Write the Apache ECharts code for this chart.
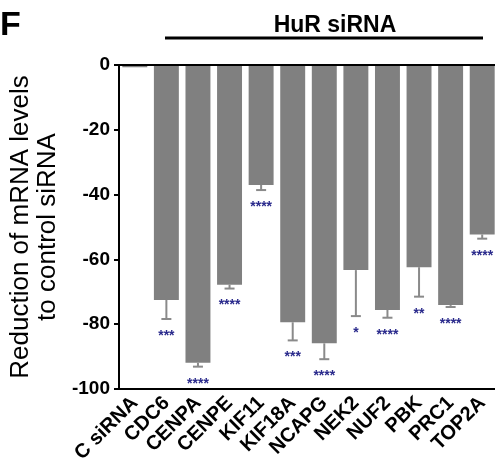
<!DOCTYPE html>
<html>
<head>
<meta charset="utf-8">
<script src="https://cdn.jsdelivr.net/npm/echarts@6/dist/echarts.min.js"></script>
<style>
  html, body { margin: 0; padding: 0; background: #fff; }
  #chart { width: 495px; height: 472px; }
</style>
</head>
<body>
<div id="chart"></div>
<script>
// gene names on the x axis
const categories = ["C siRNA", "CDC6", "CENPA", "CENPE", "KIF11", "KIF18A", "NCAPG", "NEK2", "NUF2", "PBK", "PRC1", "TOP2A"];
// mean reduction (%) and error (downward only)
const means = [-0.7, -72.5, -91.9, -67.8, -37.0, -79.4, -85.9, -63.3, -75.6, -62.4, -74.1, -52.3];
const errors = [0, 5.9, 1.2, 1.2, 1.6, 5.6, 4.9, 14.2, 2.4, 9.1, 0.6, 1.3];
// significance marks
const stars = ["", "***", "****", "****", "****", "***", "****", "*", "****", "**", "****", "****"];

const font = "Liberation Sans, Arial, sans-serif";
const chart = echarts.init(document.getElementById("chart"));

chart.setOption({
  animation: false,
  grid: { left: 119, top: 65, bottom: 83, width: 379, containLabel: false, outerBoundsMode: "none" },
  graphic: [
    { type: "text", left: 0, top: 9, style: { text: "F", font: "bold 34px " + font, fill: "#000" } },
    { type: "text", x: 335, y: 26, style: { text: "HuR siRNA", font: "bold 23px " + font, fill: "#000", textAlign: "center", textVerticalAlign: "middle" } },
    { type: "line", shape: { x1: 165, y1: 38, x2: 483, y2: 38 }, style: { stroke: "#000", lineWidth: 3 } }
  ],
  xAxis: {
    type: "category",
    data: categories,
    position: "bottom",
    axisLine: { onZero: false, lineStyle: { color: "#000", width: 2 } },
    axisTick: { alignWithLabel: true, length: 6, lineStyle: { color: "#000", width: 2 } },
    axisLabel: { rotate: 45, margin: 11, color: "#000", fontWeight: "bold", fontSize: 20, fontFamily: font, interval: 0 }
  },
  yAxis: {
    type: "value",
    min: -100,
    max: 0,
    interval: 20,
    name: "Reduction of mRNA levels\nto control siRNA",
    nameLocation: "middle",
    nameGap: 52,
    nameTextStyle: { color: "#000", fontSize: 26, fontFamily: font, lineHeight: 27 },
    axisLine: { show: true, lineStyle: { color: "#000", width: 2 } },
    axisTick: { show: true, length: 5, lineStyle: { color: "#000", width: 2 } },
    axisLabel: { color: "#000", fontWeight: "bold", fontSize: 19, fontFamily: font, margin: 9 },
    splitLine: { show: false }
  },
  series: [
    {
      type: "bar",
      data: means,
      barWidth: "79%",
      itemStyle: { color: "#808080" },
      markLine: {
        silent: true,
        symbol: "none",
        label: { show: false },
        lineStyle: { color: "#000", width: 2, type: "solid" },
        data: [{ yAxis: 0 }]
      }
    },
    {
      type: "custom",
      data: means.map((m, i) => [i, m, errors[i]]),
      encode: { x: 0, y: 1 },
      z: 3,
      renderItem: function (params, api) {
        const i = api.value(0);
        const m = api.value(1);
        const e = api.value(2);
        const top = api.coord([i, m]);
        const end = api.coord([i, m - e]);
        const children = [];
        if (e > 0) {
          children.push({ type: "line", shape: { x1: end[0], y1: top[1], x2: end[0], y2: end[1] }, style: { stroke: "#8a8a8a", lineWidth: 2 } });
          children.push({ type: "line", shape: { x1: end[0] - 5, y1: end[1], x2: end[0] + 5, y2: end[1] }, style: { stroke: "#8a8a8a", lineWidth: 2 } });
        }
        if (stars[i]) {
          children.push({
            type: "text",
            x: end[0], y: end[1] + 17,
            style: { text: stars[i], fill: "#2a2a8c", font: "bold 14px " + font, textAlign: "center", textVerticalAlign: "middle" }
          });
        }
        return { type: "group", children: children };
      }
    }
  ]
});
</script>
</body>
</html>
